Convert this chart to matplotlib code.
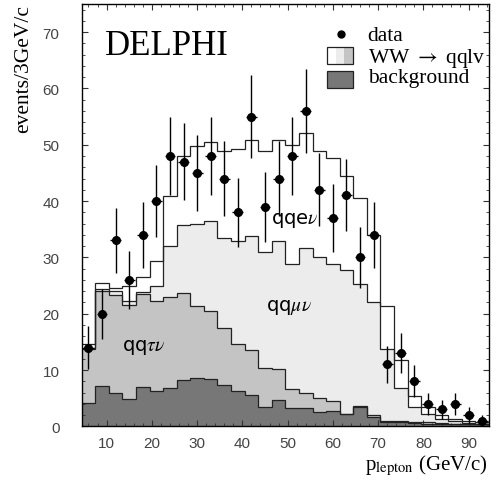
import matplotlib
matplotlib.use("Agg")
import matplotlib.pyplot as plt
import numpy as np
from matplotlib.patches import Rectangle
from matplotlib.ticker import MultipleLocator

plt.rcParams["mathtext.fontset"] = "stix"

# 3 GeV/c bins from 4.5 to 94.5
bin_edges = np.arange(4.5, 94.6, 3.0)
bin_centers = bin_edges[:-1] + 1.5

# cumulative stack levels (events / 3 GeV/c)
level_background = [4.2, 7.2, 6.0, 4.9, 7.0, 6.3, 6.8, 8.2, 8.6, 8.5, 7.3, 6.3, 5.6, 3.4, 4.6,
                    3.3, 3.2, 2.6, 2.8, 2.2, 3.4, 1.6, 0.8, 0.7, 0.6, 0.5, 0.5, 0.5, 0.4, 0.4]
level_qqtaunu = [13.7, 24.0, 23.3, 21.6, 23.5, 22.3, 22.9, 23.6, 21.4, 20.4, 17.5, 14.6, 13.5, 10.4, 10.2,
                 6.6, 6.0, 5.1, 4.5, 2.2, 3.7, 2.0, 1.0, 0.9, 0.8, 0.7, 0.6, 0.5, 0.5, 0.4]
level_qqmunu = [14.0, 24.3, 24.0, 22.3, 23.8, 24.9, 32.0, 35.7, 36.0, 36.5, 33.5, 32.9, 33.8, 30.9, 32.9,
                28.8, 31.7, 30.0, 28.8, 27.7, 25.3, 22.0, 13.7, 6.9, 3.4, 2.2, 1.3, 0.9, 0.6, 0.5]
level_qqenu = [14.6, 25.4, 24.6, 25.0, 26.6, 29.4, 40.9, 48.0, 49.8, 50.5, 48.8, 49.2, 50.9, 48.8, 50.9,
               50.0, 52.1, 48.9, 47.7, 44.5, 40.6, 33.9, 21.3, 11.8, 5.4, 3.4, 2.1, 1.3, 0.9, 0.7]

data_counts = [14, 20, 33, 26, 34, 40, 48, 47, 45, 48, 44, 38, 55, 39, 44,
               48, 56, 42, 37, 41, 30, 34, 11, 13, 8, 4, 3, 4, 2, 1]

fill_colors = {
    "qqenu": "white",
    "qqmunu": "#ececec",
    "qqtaunu": "#c4c4c4",
    "background": "#777777",
}
line_color = "#222222"
serif = ["Liberation Serif", "DejaVu Serif"]

fig = plt.figure(figsize=(4.98, 4.89), dpi=100)
ax = fig.add_axes([0.164, 0.126, 0.818, 0.864])

for levels, key in [(level_qqenu, "qqenu"), (level_qqmunu, "qqmunu"),
                    (level_qqtaunu, "qqtaunu"), (level_background, "background")]:
    ax.stairs(levels, bin_edges, fill=True, color=fill_colors[key], baseline=0, zorder=1)
for levels in [level_qqenu, level_qqmunu, level_qqtaunu, level_background]:
    ax.stairs(levels, bin_edges, color=line_color, linewidth=0.9, baseline=None, zorder=2)

counts = np.array(data_counts, dtype=float)
ax.errorbar(bin_centers, counts, yerr=np.sqrt(counts), xerr=1.2, fmt="o", color="black",
            markersize=5.5, elinewidth=1.0, capsize=0, zorder=4)

ax.set_xlim(4.5, 94.5)
ax.set_ylim(0, 75)
ax.xaxis.set_major_locator(MultipleLocator(10))
ax.xaxis.set_minor_locator(MultipleLocator(2))
ax.yaxis.set_major_locator(MultipleLocator(10))
ax.yaxis.set_minor_locator(MultipleLocator(2))
ax.tick_params(which="both", direction="in", top=True, right=True, color="#333333")
ax.tick_params(which="major", length=4.5, width=0.8)
ax.tick_params(which="minor", length=2.2, width=0.6)
ax.tick_params(axis="y", which="major", pad=16)
ax.tick_params(axis="x", which="major", pad=7)
for lab in ax.get_xticklabels() + ax.get_yticklabels():
    lab.set_fontfamily(["Liberation Sans", "DejaVu Sans"])
    lab.set_fontsize(11)
    lab.set_color("#444444")
for sp in ax.spines.values():
    sp.set_linewidth(1.0)
    sp.set_zorder(5)

fig.text(24 / 498, 1 - 5 / 489, "events/3GeV/c", rotation=90, ha="center", va="top",
         fontsize=15.5, family=serif)
fig.text(0.98, 1 - 466 / 489, r"p$_{\mathrm{lepton}}$ (GeV/c)", ha="right", va="center",
         fontsize=15, family=serif)

ax.text(0.057, 0.8816, "DELPHI", transform=ax.transAxes, fontsize=25, family=serif,
        ha="left", va="baseline")

# process labels
ax.text(51.6, 36.8, r"qqe$\nu$", fontsize=14, family=["DejaVu Sans"], ha="center", va="center", zorder=3)
ax.text(50.2, 21.2, r"qq$\mu\nu$", fontsize=14, family=["DejaVu Sans"], ha="center", va="center", zorder=3)
ax.text(18.2, 14.1, r"qq$\tau\nu$", fontsize=14, family=["DejaVu Sans"], ha="center", va="center", zorder=3)

# legend
ax.plot([0.637], [0.929], "o", color="black", markersize=5, transform=ax.transAxes, zorder=6)
ax.text(0.702, 0.9155, "data", transform=ax.transAxes, fontsize=15.5, family=serif, va="baseline")
stripe_w = 0.064 / 3
for i, c in enumerate(["white", "#ececec", "#c4c4c4"]):
    ax.add_patch(Rectangle((0.602 + i * stripe_w, 0.858), stripe_w, 0.040, transform=ax.transAxes,
                           facecolor=c, edgecolor="none", zorder=6))
ax.add_patch(Rectangle((0.602, 0.858), 0.064, 0.040, transform=ax.transAxes,
                       facecolor="none", edgecolor=line_color, linewidth=0.9, zorder=7))
ax.text(0.702, 0.862, r"WW $\rightarrow$ qqlv", transform=ax.transAxes, fontsize=15.5,
        family=serif, va="baseline")
ax.add_patch(Rectangle((0.602, 0.801), 0.064, 0.040, transform=ax.transAxes,
                       facecolor="#777777", edgecolor=line_color, linewidth=0.9, zorder=6))
ax.text(0.702, 0.8146, "background", transform=ax.transAxes, fontsize=15.5, family=serif,
        va="baseline")

fig.savefig("out.png", dpi=100)
